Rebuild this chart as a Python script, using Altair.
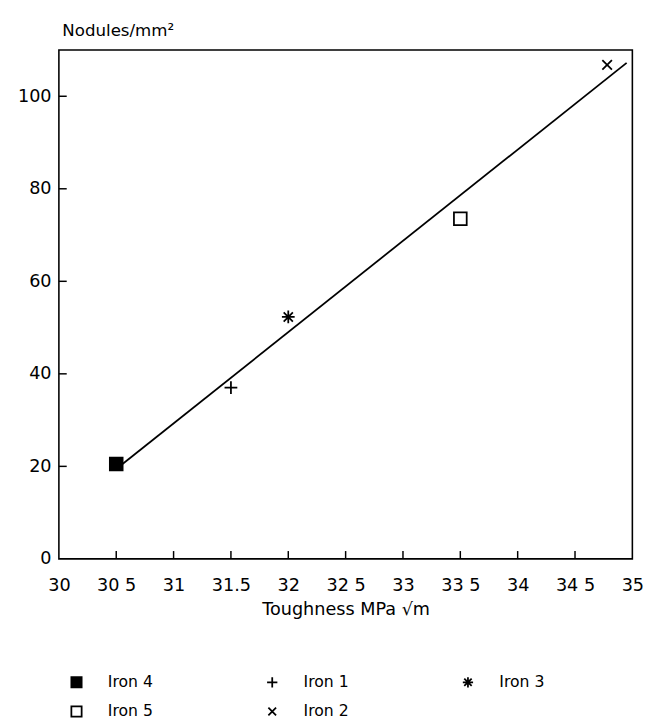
import altair as alt
import pandas as pd

# ---- data ----
irons = ["Iron 4", "Iron 1", "Iron 3", "Iron 5", "Iron 2"]
toughness = [30.5, 31.5, 32.0, 33.5, 34.78]
nodules = [20.5, 37.0, 52.3, 73.5, 106.8]

# legend order (filled column by column: Iron 4 / Iron 5, Iron 1 / Iron 2, Iron 3)
legend_order = ["Iron 4", "Iron 5", "Iron 1", "Iron 2", "Iron 3"]

x_tick_values = [30, 30.5, 31, 31.5, 32, 32.5, 33, 33.5, 34, 34.5, 35]
x_tick_labels = ["30", "30 5", "31", "31.5", "32", "32 5", "33", "33 5", "34", "34 5", "35"]
y_tick_values = [0, 20, 40, 60, 80, 100]
fit_extent = [30.5, 34.95]

shape_of = {
    "Iron 4": "square",
    "Iron 5": "square",
    "Iron 1": "M-1,0L1,0M0,-1L0,1",
    "Iron 2": "M-0.75,-0.75L0.75,0.75M-0.75,0.75L0.75,-0.75",
    "Iron 3": "M-1,0L1,0M0,-1L0,1M-0.72,-0.72L0.72,0.72M-0.72,0.72L0.72,-0.72",
}
fill_of = {"Iron 4": "black", "Iron 5": "white", "Iron 1": "white", "Iron 2": "white", "Iron 3": "white"}

df = pd.DataFrame({"iron": irons, "t": toughness, "n": nodules})
xt = pd.DataFrame({"v": x_tick_values[1:-1]})
yt = pd.DataFrame({"v": y_tick_values[1:]})

FONT = "DejaVu Sans"
W, H = 586, 520

label_expr = "[" + ",".join("'" + s + "'" for s in x_tick_labels) + "][round((datum.value-30)*2)]"

xscale = alt.Scale(domain=[30, 35], nice=False, zero=False)
yscale = alt.Scale(domain=[0, 110], nice=False)

x_enc = alt.X(
    "t:Q", scale=xscale,
    axis=alt.Axis(values=x_tick_values, labelExpr=label_expr, ticks=False, domain=False, grid=False,
                  labelFontSize=18, labelFont=FONT, labelColor="black", labelPadding=18,
                  title="Toughness MPa √m", titleFont=FONT, titleFontSize=18, titleFontWeight="normal",
                  titleColor="black", titlePadding=7, labelFlush=False),
)
y_enc = alt.Y(
    "n:Q", scale=yscale,
    axis=alt.Axis(values=y_tick_values, ticks=False, domain=False, grid=False,
                  labelFontSize=18, labelFont=FONT, labelColor="black", labelPadding=8,
                  title="Nodules/mm²", titleFont=FONT, titleFontSize=17, titleFontWeight="normal",
                  titleColor="black", titleAngle=0, titleAlign="left", titleBaseline="alphabetic",
                  titleX=3, titleY=-15),
)

legend = alt.Legend(
    title=None, orient="none", legendX=10, legendY=638, columns=3, columnPadding=112, rowPadding=12,
    labelFont=FONT, labelFontSize=16, labelColor="black", labelOffset=24, symbolSize=110,
    symbolStrokeWidth=1.8, padding=0,
)

shape_scale = alt.Scale(domain=legend_order, range=[shape_of[k] for k in legend_order])
fill_scale = alt.Scale(domain=legend_order, range=[fill_of[k] for k in legend_order])
stroke_scale = alt.Scale(domain=legend_order, range=["black"] * len(legend_order))

points = alt.Chart(df).mark_point(filled=False, strokeWidth=1.8, opacity=1, size=170).encode(
    x=x_enc,
    y=y_enc,
    shape=alt.Shape("iron:N", scale=shape_scale, legend=legend),
    fill=alt.Fill("iron:N", scale=fill_scale, legend=legend),
    stroke=alt.Stroke("iron:N", scale=stroke_scale, legend=legend),
)

fit = alt.Chart(df).transform_regression("t", "n", extent=fit_extent).mark_line(
    color="black", strokeWidth=1.8
).encode(x=alt.X("t:Q", scale=xscale), y=alt.Y("n:Q", scale=yscale))

xticks = alt.Chart(xt).mark_rule(color="black", strokeWidth=1.5).encode(
    x=alt.X("v:Q", scale=xscale), y=alt.value(H), y2=alt.value(H - 8)
)
yticks = alt.Chart(yt).mark_rule(color="black", strokeWidth=1.5).encode(
    y=alt.Y("v:Q", scale=yscale), x=alt.value(0), x2=alt.value(8)
)

chart = (
    alt.layer(fit, xticks, yticks, points)
    .properties(width=W, height=H, padding={"left": 9, "top": 6, "right": 5, "bottom": 5})
    .configure(background="white")
    .configure_view(stroke="black", strokeWidth=1.6)
)

chart.save("out.html", embed_options={"renderer": "svg", "actions": False})
